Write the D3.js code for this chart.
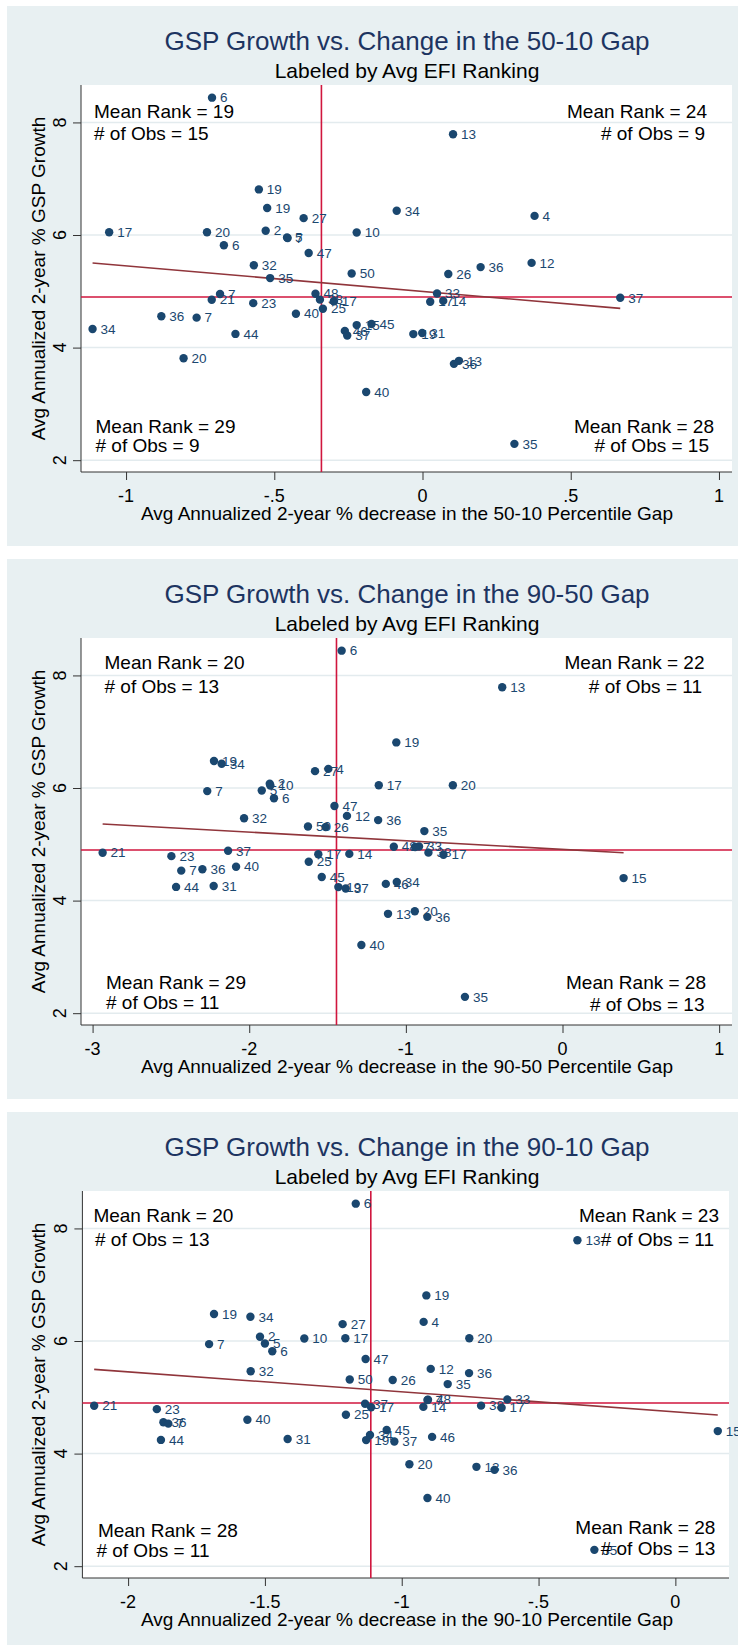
<!DOCTYPE html>
<html>
<head>
<meta charset="utf-8">
<title>GSP Growth vs. Change in the Gaps</title>
<style>
  body { margin: 0; background: #fff; }
  svg text { font-family: "Liberation Sans", Arial, Helvetica, sans-serif; }
</style>
</head>
<body>
<script src="https://cdn.jsdelivr.net/npm/d3@7"></script>
<script>

// one entry per state, same order in every array
var efiRank = [6, 13, 19, 19, 34, 4, 27, 2, 17, 20, 10, 5, 7, 6, 47, 12, 32, 36, 50, 26, 35,
               33, 48, 7, 37, 21, 38, 17, 17, 14, 23, 25, 40, 36, 7,
               45, 15, 34, 46, 31, 19, 44, 37,
               20, 13, 36, 40, 35];

var gspGrowth = [8.44, 7.79, 6.81, 6.48, 6.43, 6.34, 6.30, 6.077, 6.05, 6.05, 6.045, 5.955, 5.945, 5.817, 5.68, 5.505, 5.462, 5.43, 5.315, 5.308, 5.235,
                 4.960, 4.957, 4.953, 4.885, 4.850, 4.852, 4.823, 4.815, 4.830, 4.79, 4.69, 4.602, 4.556, 4.532,
                 4.419, 4.40, 4.331, 4.297, 4.259, 4.24, 4.243, 4.215,
                 3.812, 3.765, 3.711, 3.21, 2.29];

var gap5010 = [-0.710, 0.103, -0.552, -0.524, -0.087, 0.378, -0.401, -0.529, -1.057, -0.727, -0.222, -0.457, -0.455, -0.670, -0.384, 0.368, -0.569, 0.196, -0.239, 0.087, -0.514,
               0.049, -0.361, -0.683, 0.667, -0.711, -0.346, -0.299, 0.026, 0.070, -0.571, -0.336, -0.427, -0.881, -0.762,
               -0.172, -0.222, -1.113, -0.262, -0.001, -0.031, -0.631, -0.254,
               -0.806, 0.123, 0.106, -0.190, 0.310];

var gap9050 = [-1.410, -0.385, -1.061, -2.225, -2.176, -1.495, -1.580, -1.869, -1.173, -0.700, -1.865, -1.920, -2.268, -1.842, -1.456, -1.376, -2.033, -1.177, -1.625, -1.512, -0.882,
               -0.916, -1.077, -0.941, -2.135, -2.936, -0.856, -1.559, -0.760, -1.361, -2.497, -1.620, -2.084, -2.299, -2.434,
               -1.537, 0.390, -1.058, -1.128, -2.227, -1.431, -2.467, -1.384,
               -0.943, -1.114, -0.863, -1.284, -0.623];

var gap9010 = [-1.168, -0.358, -0.910, -1.686, -1.553, -0.920, -1.216, -1.518, -1.206, -0.753, -1.356, -1.500, -1.704, -1.473, -1.132, -0.894, -1.552, -0.754, -1.190, -1.033, -0.832,
               -0.614, -0.904, -0.906, -1.134, -2.124, -0.710, -1.112, -0.635, -0.921, -1.895, -1.204, -1.564, -1.871, -1.853,
               -1.055, 0.155, -1.116, -0.889, -1.417, -1.130, -1.880, -1.027,
               -0.972, -0.727, -0.661, -0.906, -0.296];

// quadrant summaries: top-left, top-right, bottom-left, bottom-right
var meanRank = [[19, 24, 29, 28], [20, 22, 29, 28], [20, 23, 28, 28]];
var nObs     = [[15, 9, 9, 15],   [13, 11, 11, 13], [13, 11, 11, 13]];

// mean lines and fitted line end points
var meanGrowth = 4.90;
var meanGap = [-0.341, -1.443, -1.113];
var fitEnds = [[[-1.113, 5.503], [0.667, 4.696]],
               [[-2.936, 5.361], [0.390, 4.850]],
               [[-2.124, 5.496], [0.155, 4.686]]];

var gapNames = ["50-10", "90-50", "90-10"];
var xTicks = [[-1, -0.5, 0, 0.5, 1], [-3, -2, -1, 0, 1], [-2, -1.5, -1, -0.5, 0]];
var yTicks = [2, 4, 6, 8];

var gaps = [gap5010, gap9050, gap9010];

// layout
var W = 738, H = 1645;
var bgCol = "#e8f0f2", gridCol = "#e3ebee", navy = "#1a476f",
    titleCol = "#1d3461", refCol = "#d0163e", fitCol = "#90353b";

var layout = [
  {bgTop: 6,    left: 81,   right: 732, xDom: [-1.152, 1.044],
   ann: {tl: [13, 33, 13, 55], tr: [25, 33, 27, 55], bl: [14.5, 39, 14.5, 20.5], br: [18, 39, 23, 20.5]}},
  {bgTop: 559,  left: 81,   right: 732, xDom: [-3.074, 1.082],
   ann: {tl: [23.5, 31, 23.5, 54.5], tr: [27.5, 31, 30, 54.5], bl: [25, 36, 25, 16.5], br: [26, 36, 27.5, 14]}},
  {bgTop: 1112, left: 82.4, right: 729, xDom: [-2.167, 0.196],
   ann: {tl: [11, 31, 12.6, 55], tr: [10, 31, 15, 55], bl: [15.5, 41, 14, 21], br: [13.7, 44, 13.7, 23.5]}}
];
var plotH = 387, yDom = [1.79, 8.665];

var svg = d3.select("body").append("svg")
    .attr("width", W)
    .attr("height", H);

function fmt(v) {
  var s = String(v);
  return s.replace(/^0\./, ".").replace(/^-0\./, "-.");
}

layout.forEach(function(L, i) {
  var g = svg.append("g");
  var top = L.bgTop + 79, bottom = top + plotH;

  g.append("rect")
      .attr("x", 7).attr("y", L.bgTop)
      .attr("width", W - 7).attr("height", 540)
      .attr("fill", bgCol);

  g.append("rect")
      .attr("x", L.left).attr("y", top)
      .attr("width", L.right - L.left).attr("height", plotH)
      .attr("fill", "#fff");

  var x = d3.scaleLinear().domain(L.xDom).range([L.left, L.right]);
  var y = d3.scaleLinear().domain(yDom).range([bottom, top]);

  // titles
  g.append("text")
      .attr("x", 407).attr("y", L.bgTop + 44)
      .attr("text-anchor", "middle")
      .attr("font-size", 26)
      .attr("fill", titleCol)
      .text("GSP Growth vs. Change in the " + gapNames[i] + " Gap");
  g.append("text")
      .attr("x", 407).attr("y", L.bgTop + 72)
      .attr("text-anchor", "middle")
      .attr("font-size", 21)
      .attr("fill", "#000")
      .text("Labeled by Avg EFI Ranking");

  // grid
  g.selectAll(".grid")
    .data(yTicks)
    .enter().append("line")
      .attr("x1", L.left).attr("x2", L.right)
      .attr("y1", function(d) { return y(d); })
      .attr("y2", function(d) { return y(d); })
      .attr("stroke", gridCol)
      .attr("stroke-width", 1.5);

  // axes
  var yAxis = d3.axisLeft(y).tickValues(yTicks).tickSize(8).tickFormat("");
  var ya = g.append("g").attr("transform", "translate(" + L.left + ",0)").call(yAxis);
  ya.select(".domain").attr("d", "M0," + top + "V" + bottom);
  ya.selectAll("line, path").attr("stroke", "#333");

  g.selectAll(".ylab")
    .data(yTicks)
    .enter().append("text")
      .attr("transform", function(d) { return "translate(" + (L.left - 15) + "," + y(d) + ") rotate(-90)"; })
      .attr("text-anchor", "middle")
      .attr("font-size", 18)
      .text(function(d) { return d; });

  var xAxis = d3.axisBottom(x).tickValues(xTicks[i]).tickSize(8).tickFormat("");
  var xa = g.append("g").attr("transform", "translate(0," + bottom + ")").call(xAxis);
  xa.select(".domain").attr("d", "M" + L.left + ",0H" + L.right);
  xa.selectAll("line, path").attr("stroke", "#333");

  g.selectAll(".xlab")
    .data(xTicks[i])
    .enter().append("text")
      .attr("x", function(d) { return x(d); })
      .attr("y", bottom + 29.5)
      .attr("text-anchor", "middle")
      .attr("font-size", 18)
      .text(fmt);

  g.append("text")
      .attr("x", 407).attr("y", bottom + 48)
      .attr("text-anchor", "middle")
      .attr("font-size", 19)
      .text("Avg Annualized 2-year % decrease in the " + gapNames[i] + " Percentile Gap");

  g.append("text")
      .attr("transform", "translate(45," + ((top + bottom) / 2) + ") rotate(-90)")
      .attr("text-anchor", "middle")
      .attr("font-size", 19)
      .text("Avg Annualized 2-year % GSP Growth");

  // reference lines
  g.append("line")
      .attr("x1", L.left).attr("x2", L.right)
      .attr("y1", y(meanGrowth)).attr("y2", y(meanGrowth))
      .attr("stroke", refCol).attr("stroke-width", 1.6);
  g.append("line")
      .attr("x1", x(meanGap[i])).attr("x2", x(meanGap[i]))
      .attr("y1", top).attr("y2", bottom)
      .attr("stroke", refCol).attr("stroke-width", 1.6);

  // fitted line
  g.append("path")
      .datum(fitEnds[i])
      .attr("d", d3.line().x(function(d) { return x(d[0]); }).y(function(d) { return y(d[1]); }))
      .attr("stroke", fitCol).attr("stroke-width", 1.6).attr("fill", "none");

  var pts = efiRank.map(function(r, k) { return {r: r, gx: gaps[i][k], gy: gspGrowth[k]}; });

  g.selectAll(".lab")
    .data(pts)
    .enter().append("text")
      .attr("x", function(d) { return x(d.gx) + 8; })
      .attr("y", function(d) { return y(d.gy); })
      .attr("dy", "0.35em")
      .attr("font-size", 13.5)
      .attr("fill", navy)
      .text(function(d) { return d.r; });

  g.selectAll(".dot")
    .data(pts)
    .enter().append("circle")
      .attr("cx", function(d) { return x(d.gx); })
      .attr("cy", function(d) { return y(d.gy); })
      .attr("r", 4.2)
      .attr("fill", navy);

  // quadrant notes
  var A = L.ann;
  function note(xp, yp, anchor, txt) {
    g.append("text")
        .attr("x", xp).attr("y", yp)
        .attr("text-anchor", anchor)
        .attr("font-size", 19)
        .text(txt);
  }
  note(L.left + A.tl[0], top + A.tl[1], "start", "Mean Rank = " + meanRank[i][0]);
  note(L.left + A.tl[2], top + A.tl[3], "start", "# of Obs = " + nObs[i][0]);
  note(L.right - A.tr[0], top + A.tr[1], "end", "Mean Rank = " + meanRank[i][1]);
  note(L.right - A.tr[2], top + A.tr[3], "end", "# of Obs = " + nObs[i][1]);
  note(L.left + A.bl[0], bottom - A.bl[1], "start", "Mean Rank = " + meanRank[i][2]);
  note(L.left + A.bl[2], bottom - A.bl[3], "start", "# of Obs = " + nObs[i][2]);
  note(L.right - A.br[0], bottom - A.br[1], "end", "Mean Rank = " + meanRank[i][3]);
  note(L.right - A.br[2], bottom - A.br[3], "end", "# of Obs = " + nObs[i][3]);
});

</script>
</body>
</html>
